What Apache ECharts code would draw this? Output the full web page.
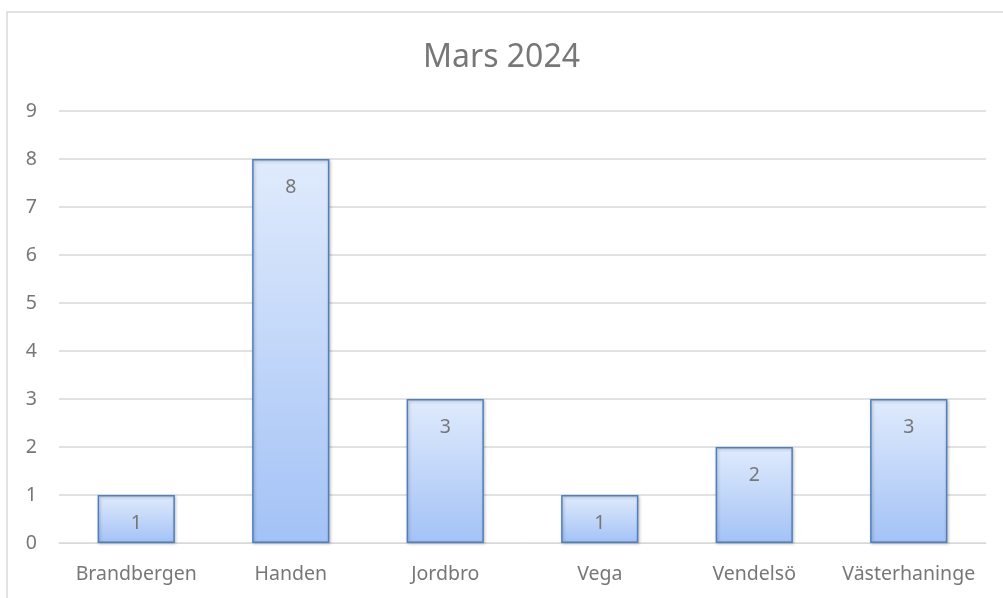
<html>
<head>
<script src="https://cdn.jsdelivr.net/npm/echarts@6/dist/echarts.min.js"></script>
</head>
<body style="margin:0">
<div id="main" style="width:1003px;height:598px;"></div>
<script type="text/javascript">
var titleText = 'Mars 2024';
var places = ['Brandbergen', 'Handen', 'Jordbro', 'Vega', 'Vendelsö', 'Västerhaninge'];
var counts = [1, 8, 3, 1, 2, 3];
var yTicks = [0, 1, 2, 3, 4, 5, 6, 7, 8, 9];

var myChart = echarts.init(document.getElementById('main'));
var font = '"Noto Sans", sans-serif';
var option = {
	backgroundColor: '#fff',
	title: {
		text: titleText,
		left: 'center',
		top: 37,
		textStyle: { fontFamily: font, fontSize: 32, fontWeight: 'normal', color: '#777' }
	},
	graphic: [{
		type: 'rect',
		shape: { x: 7, y: 12, width: 1010, height: 600 },
		style: { fill: 'none', stroke: '#d9d9d9', lineWidth: 1.5 },
		silent: true
	}],
	grid: { left: 59, right: 17, top: 111, bottom: 55 },
	xAxis: {
		type: 'category',
		data: places,
		axisLine: { show: true, lineStyle: { color: '#d9d9d9', width: 1 } },
		axisTick: { show: false },
		axisLabel: { interval: 0, fontFamily: font, fontSize: 19.5, color: '#777', margin: 21 }
	},
	yAxis: {
		type: 'value',
		min: yTicks[0],
		max: yTicks[yTicks.length - 1],
		interval: 1,
		axisLine: { show: false },
		axisTick: { show: false },
		splitLine: { lineStyle: { color: '#d9d9d9', width: 1.5 } },
		axisLabel: { fontFamily: font, fontSize: 19.5, color: '#777', margin: 22 }
	},
	series: [{
		type: 'bar',
		data: counts,
		barWidth: '50%',
		itemStyle: {
			color: new echarts.graphic.LinearGradient(0, 0, 0, 1, [
				{ offset: 0, color: '#e0ebfc' },
				{ offset: 1, color: '#a3c2f6' }
			]),
			borderColor: '#4e80c0',
			borderWidth: 1.5,
			shadowColor: 'rgba(0,0,0,0.25)',
			shadowBlur: 3,
			shadowOffsetX: 1,
			shadowOffsetY: 1
		},
		label: {
			show: true,
			position: 'insideTop',
			distance: 18,
			fontFamily: font,
			fontSize: 19.5,
			color: '#777'
		}
	}]
};
myChart.setOption(option);
</script>
</body>
</html>
